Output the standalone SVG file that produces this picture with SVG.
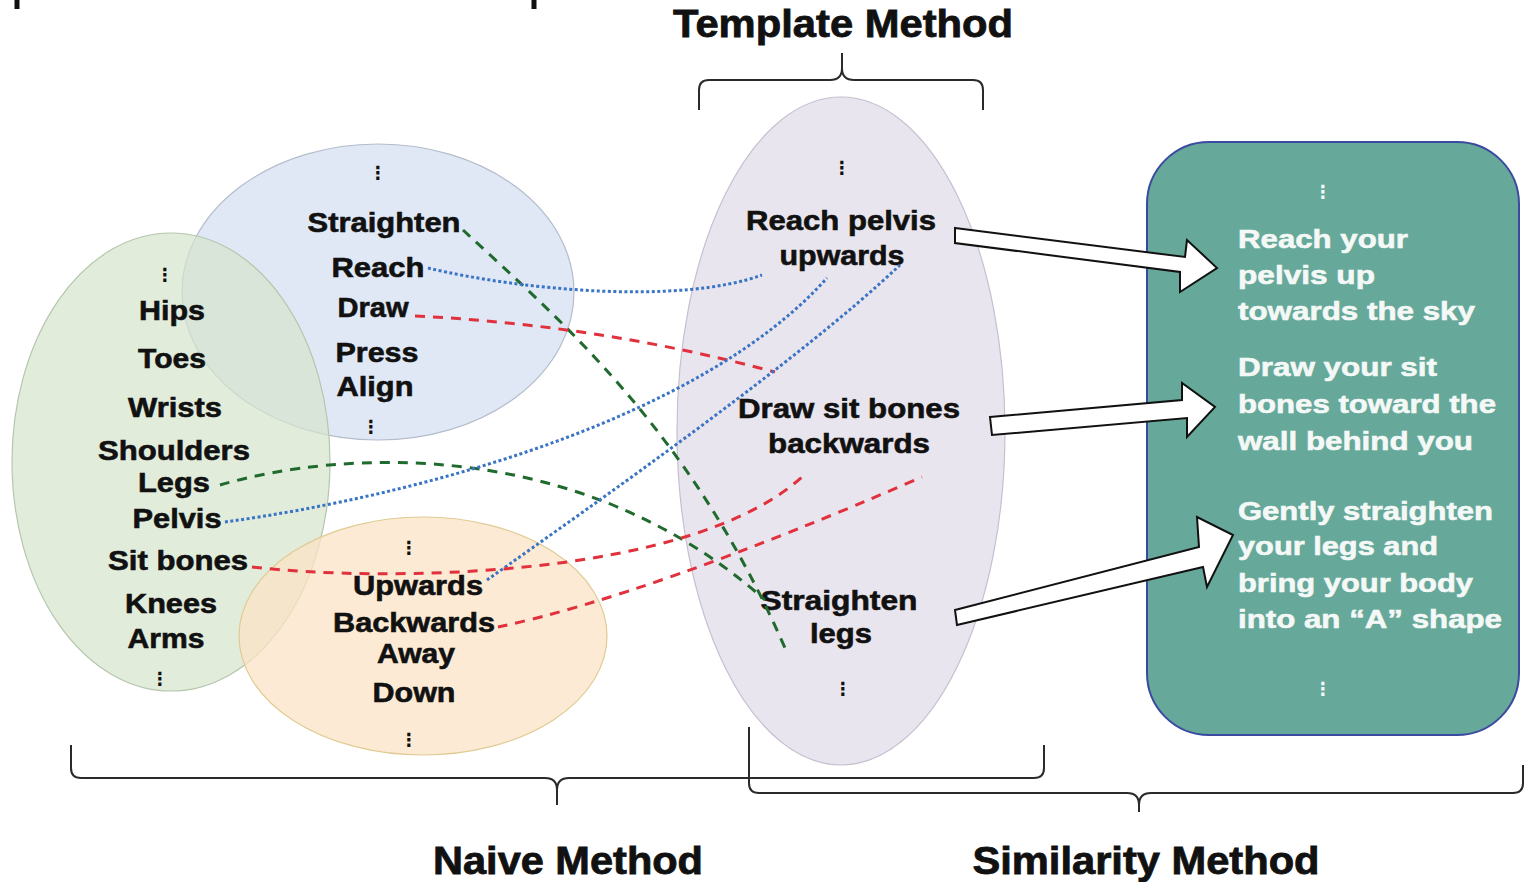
<svg xmlns="http://www.w3.org/2000/svg" width="1526" height="882" viewBox="0 0 1526 882">
<style>
  text { font-family: "Liberation Sans", Arial, sans-serif; font-weight: bold; font-size: 28px; fill: #111; stroke: #111; stroke-width: 0.6; }
  .c { text-anchor: middle; }
  .w { fill: #f4f8f6; stroke: #f4f8f6; stroke-width: 0.6; font-size: 25px; }
  .title { font-size: 38px; stroke-width: 0.8; }
  .dots { font-family: "DejaVu Sans", sans-serif; font-size: 18px; text-anchor: middle; stroke-width: 0; }
  .wd { fill: #f4f8f6; }
  .brace { fill: none; stroke: #2a2a2a; stroke-width: 2; }
  .g { fill: none; stroke: #1f6a2c; stroke-width: 3; stroke-dasharray: 10 8; }
  .r { fill: none; stroke: #e0313c; stroke-width: 3; stroke-dasharray: 10 8; }
  .b { fill: none; stroke: #3a74c4; stroke-width: 3; stroke-dasharray: 3 2.5; }
  .arrow { fill: #ffffff; stroke: #111; stroke-width: 2; stroke-linejoin: miter; }
</style>

<!-- cut-off marks at top -->
<g id="top-marks">
  <line x1="17" y1="0" x2="17" y2="9" stroke="#111" stroke-width="5"/>
  <line x1="534" y1="0" x2="534" y2="9" stroke="#111" stroke-width="5"/>
</g>

<g id="template-method">
  <text class="title c" x="843" y="37" textLength="340" lengthAdjust="spacingAndGlyphs">Template Method</text>
  <path class="brace" d="M699,110 V90 Q699,80 709,80 H830 Q842,80 842,68 V53 M842,68 Q842,80 854,80 H973 Q983,80 983,90 V110"/>
</g>

<g id="verbs">
  <ellipse cx="378" cy="292" rx="196" ry="148" fill="#dae4f5" fill-opacity="0.85" stroke="#b4bccb" stroke-width="1.2"/>
  <text class="dots" x="378" y="179">⋮</text>
  <text class="c" x="384" y="232" textLength="153" lengthAdjust="spacingAndGlyphs">Straighten</text>
  <text class="c" x="378" y="277" textLength="93" lengthAdjust="spacingAndGlyphs">Reach</text>
  <text class="c" x="373" y="317" textLength="71" lengthAdjust="spacingAndGlyphs">Draw</text>
  <text class="c" x="377" y="362" textLength="83" lengthAdjust="spacingAndGlyphs">Press</text>
  <text class="c" x="375" y="396" textLength="77" lengthAdjust="spacingAndGlyphs">Align</text>
  <text class="dots" x="371" y="433">⋮</text>
</g>

<g id="body-parts">
  <ellipse cx="171" cy="462" rx="159" ry="229" fill="#d4e4cc" fill-opacity="0.7" stroke="#b6c6ae" stroke-width="1.2"/>
  <text class="dots" x="165" y="281">⋮</text>
  <text class="c" x="172" y="320" textLength="66" lengthAdjust="spacingAndGlyphs">Hips</text>
  <text class="c" x="172" y="368" textLength="68" lengthAdjust="spacingAndGlyphs">Toes</text>
  <text class="c" x="175" y="417" textLength="94" lengthAdjust="spacingAndGlyphs">Wrists</text>
  <text class="c" x="174" y="460" textLength="152" lengthAdjust="spacingAndGlyphs">Shoulders</text>
  <text class="c" x="174" y="492" textLength="72" lengthAdjust="spacingAndGlyphs">Legs</text>
  <text class="c" x="177" y="528" textLength="89" lengthAdjust="spacingAndGlyphs">Pelvis</text>
  <text class="c" x="178" y="570" textLength="140" lengthAdjust="spacingAndGlyphs">Sit bones</text>
  <text class="c" x="171" y="613" textLength="92" lengthAdjust="spacingAndGlyphs">Knees</text>
  <text class="c" x="166" y="648" textLength="77" lengthAdjust="spacingAndGlyphs">Arms</text>
  <text class="dots" x="160" y="685">⋮</text>
</g>

<g id="directions">
  <ellipse cx="423" cy="636" rx="184" ry="119" fill="#fbe3c6" fill-opacity="0.75" stroke="#dfcb92" stroke-width="1.2"/>
  <text class="dots" x="409" y="554">⋮</text>
  <text class="c" x="418" y="595" textLength="130" lengthAdjust="spacingAndGlyphs">Upwards</text>
  <text class="c" x="414" y="632" textLength="162" lengthAdjust="spacingAndGlyphs">Backwards</text>
  <text class="c" x="416" y="663" textLength="78" lengthAdjust="spacingAndGlyphs">Away</text>
  <text class="c" x="414" y="702" textLength="83" lengthAdjust="spacingAndGlyphs">Down</text>
  <text class="dots" x="409" y="746">⋮</text>
</g>

<g id="template">
  <ellipse cx="841" cy="431" rx="164" ry="334" fill="#e9e5ee" stroke="#c6bfd0" stroke-width="1.2"/>
  <text class="dots" x="842" y="174">⋮</text>
  <text class="c" x="841" y="230" textLength="190" lengthAdjust="spacingAndGlyphs">Reach pelvis</text>
  <text class="c" x="842" y="265" textLength="125" lengthAdjust="spacingAndGlyphs">upwards</text>
  <text class="c" x="849" y="418" textLength="222" lengthAdjust="spacingAndGlyphs">Draw sit bones</text>
  <text class="c" x="849" y="453" textLength="162" lengthAdjust="spacingAndGlyphs">backwards</text>
  <text class="c" x="839" y="610" textLength="157" lengthAdjust="spacingAndGlyphs">Straighten</text>
  <text class="c" x="841" y="643" textLength="62" lengthAdjust="spacingAndGlyphs">legs</text>
  <text class="dots" x="843" y="695">⋮</text>
</g>

<g id="instructions">
  <rect x="1147" y="142" width="372" height="593" rx="62" ry="62" fill="#66a899" stroke="#3a4aa0" stroke-width="2"/>
  <text class="dots wd" x="1323" y="198">⋮</text>
  <text class="w" x="1238" y="248" textLength="170" lengthAdjust="spacingAndGlyphs">Reach your</text>
  <text class="w" x="1238" y="284" textLength="137" lengthAdjust="spacingAndGlyphs">pelvis up</text>
  <text class="w" x="1238" y="320" textLength="237" lengthAdjust="spacingAndGlyphs">towards the sky</text>
  <text class="w" x="1238" y="376" textLength="199" lengthAdjust="spacingAndGlyphs">Draw your sit</text>
  <text class="w" x="1238" y="413" textLength="258" lengthAdjust="spacingAndGlyphs">bones toward the</text>
  <text class="w" x="1238" y="450" textLength="235" lengthAdjust="spacingAndGlyphs">wall behind you</text>
  <text class="w" x="1238" y="520" textLength="255" lengthAdjust="spacingAndGlyphs">Gently straighten</text>
  <text class="w" x="1238" y="555" textLength="200" lengthAdjust="spacingAndGlyphs">your legs and</text>
  <text class="w" x="1238" y="592" textLength="235" lengthAdjust="spacingAndGlyphs">bring your body</text>
  <text class="w" x="1238" y="628" textLength="264" lengthAdjust="spacingAndGlyphs">into an “A” shape</text>
  <text class="dots wd" x="1323" y="695">⋮</text>
</g>

<g id="connectors">
  <path class="g" d="M463,230 C560,320 690,430 785,648"/>
  <path class="b" d="M428,268 C520,290 680,305 762,275"/>
  <path class="r" d="M415,316 Q600,325 775,372"/>
  <path class="g" d="M220,485 C340,450 580,435 765,600"/>
  <path class="b" d="M225,522 C420,495 700,420 827,278"/>
  <path class="b" d="M487,580 C600,500 800,360 900,265"/>
  <path class="r" d="M252,567 C380,582 690,580 803,476"/>
  <path class="r" d="M498,627 Q650,595 922,477"/>
  <polygon class="arrow" points="955,228 1185,257 1187,240 1217,268 1180,292 1180,272 955,243"/>
  <polygon class="arrow" points="990,417 1182,400 1182,383 1215,407 1187,437 1187,418 992,435"/>
  <polygon class="arrow" points="955,610 1199,547 1197,517 1233,535 1207,587 1203,567 957,625"/>
</g>

<g id="naive-method">
  <path class="brace" d="M71,745 V768 Q71,778 81,778 H545 Q557,778 557,790 V805 M557,790 Q557,778 569,778 H1034 Q1044,778 1044,768 V745"/>
  <text class="title c" x="568" y="874" textLength="270" lengthAdjust="spacingAndGlyphs">Naive Method</text>
</g>

<g id="similarity-method">
  <path class="brace" d="M749,727 V783 Q749,793 759,793 H1127 Q1139,793 1139,805 V812 M1139,805 Q1139,793 1151,793 H1513 Q1523,793 1523,783 V765"/>
  <text class="title c" x="1146" y="874" textLength="347" lengthAdjust="spacingAndGlyphs">Similarity Method</text>
</g>
</svg>
